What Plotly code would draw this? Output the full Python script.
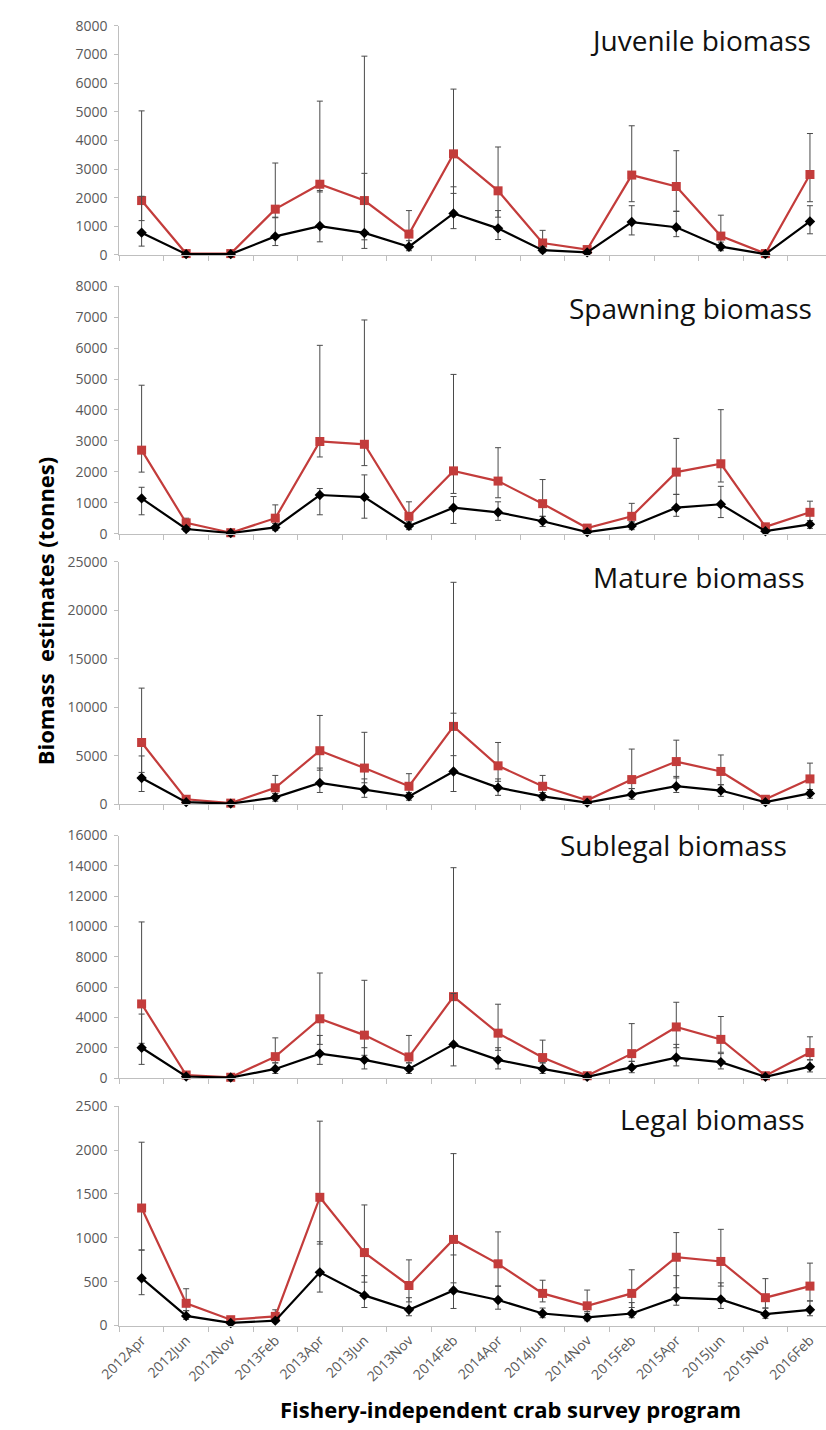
import plotly.graph_objects as go

W, H = 826, 1430

surveys = ["2012Apr", "2012Jun", "2012Nov", "2013Feb", "2013Apr", "2013Jun", "2013Nov",
           "2014Feb", "2014Apr", "2014Jun", "2014Nov", "2015Feb", "2015Apr", "2015Jun",
           "2015Nov", "2016Feb"]

# Juvenile biomass (tonnes): estimate with lower / upper bounds
juv_black = [780, 30, 30, 650, 1010, 770, 290, 1450, 930, 170, 90, 1150, 970, 290, 30, 1170]
juv_black_hi = [2050, 60, 60, 1320, 2250, 2850, 500, 2380, 1550, 300, 150, 1720, 1530, 450, 60, 1720]
juv_black_lo = [310, 10, 10, 330, 460, 230, 150, 920, 540, 80, 30, 700, 640, 150, 10, 740]
juv_red = [1900, 50, 50, 1600, 2470, 1900, 730, 3530, 2240, 420, 190, 2790, 2390, 660, 50, 2810]
juv_red_hi = [5030, 80, 80, 3210, 5370, 6940, 1550, 5790, 3770, 860, 300, 4510, 3640, 1390, 80, 4240]
juv_red_lo = [1200, 30, 30, 1300, 2200, 530, 350, 2150, 1320, 200, 100, 1860, 1520, 300, 30, 1860]

# Spawning biomass
spw_black = [1140, 150, 20, 200, 1250, 1180, 250, 840, 690, 400, 50, 250, 840, 950, 80, 300]
spw_black_hi = [1500, 230, 40, 330, 1460, 1900, 380, 1200, 1030, 560, 90, 380, 1270, 1530, 130, 420]
spw_black_lo = [610, 80, 5, 100, 610, 500, 130, 330, 430, 230, 20, 130, 560, 520, 30, 170]
spw_red = [2700, 350, 30, 500, 2980, 2890, 560, 2030, 1700, 970, 180, 560, 1990, 2260, 220, 690]
spw_red_hi = [4800, 500, 60, 930, 6090, 6910, 1030, 5150, 2780, 1750, 280, 980, 3080, 4010, 330, 1050]
spw_red_lo = [1990, 230, 10, 330, 2480, 2200, 380, 1300, 1160, 560, 100, 380, 1270, 1670, 130, 420]

# Mature biomass
mat_black = [2700, 200, 50, 700, 2190, 1500, 800, 3370, 1700, 800, 150, 1000, 1850, 1400, 200, 1100]
mat_black_hi = [4970, 350, 100, 1100, 3720, 2600, 1200, 9380, 2600, 1200, 250, 1600, 2860, 2000, 350, 1500]
mat_black_lo = [1300, 100, 20, 300, 1200, 700, 400, 1300, 900, 400, 60, 500, 1200, 800, 100, 600]
mat_red = [6360, 500, 100, 1680, 5510, 3720, 1840, 8020, 3950, 1840, 400, 2530, 4390, 3370, 500, 2600]
mat_red_hi = [11970, 700, 150, 2960, 9150, 7410, 3140, 22890, 6360, 2960, 600, 5680, 6600, 5070, 700, 4230]
mat_red_lo = [3270, 350, 60, 1100, 3500, 2200, 1200, 5000, 2350, 1200, 250, 1600, 2700, 2000, 350, 1500]

# Sublegal biomass
sub_black = [2000, 100, 30, 600, 1610, 1200, 600, 2220, 1200, 600, 80, 700, 1350, 1050, 80, 750]
sub_black_hi = [4220, 200, 60, 1000, 2810, 2000, 1000, 5580, 2000, 1000, 150, 1100, 2220, 1610, 150, 1200]
sub_black_lo = [900, 50, 10, 300, 900, 600, 300, 800, 600, 300, 30, 350, 800, 600, 30, 400]
sub_red = [4890, 200, 50, 1410, 3910, 2830, 1390, 5370, 2960, 1350, 150, 1610, 3370, 2550, 150, 1680]
sub_red_hi = [10300, 350, 100, 2650, 6930, 6450, 2810, 13880, 4870, 2500, 250, 3590, 5000, 4060, 250, 2720]
sub_red_lo = [2290, 100, 30, 1000, 2220, 1500, 1000, 2200, 1830, 1000, 80, 1100, 2000, 1700, 80, 1200]

# Legal biomass
leg_black = [540, 110, 30, 56, 607, 344, 180, 400, 292, 138, 93, 138, 318, 299, 130, 180]
leg_black_hi = [862, 170, 45, 80, 956, 569, 318, 805, 450, 200, 140, 262, 569, 487, 200, 281]
leg_black_lo = [352, 70, 15, 35, 382, 206, 112, 195, 187, 90, 55, 90, 232, 195, 83, 112]
leg_red = [1340, 254, 67, 105, 1462, 832, 457, 982, 704, 367, 225, 367, 779, 731, 318, 450]
leg_red_hi = [2090, 420, 90, 180, 2330, 1375, 749, 1960, 1068, 517, 405, 636, 1060, 1097, 535, 712]
leg_red_lo = [860, 170, 45, 80, 929, 495, 270, 487, 450, 270, 160, 206, 431, 450, 200, 281]

panel_titles = ["Juvenile biomass", "Spawning biomass", "Mature biomass",
                "Sublegal biomass", "Legal biomass"]
y_max = [8000, 8000, 25000, 16000, 2500]
y_step = [1000, 1000, 5000, 2000, 500]

panels = [
    (juv_black, juv_black_lo, juv_black_hi, juv_red, juv_red_lo, juv_red_hi),
    (spw_black, spw_black_lo, spw_black_hi, spw_red, spw_red_lo, spw_red_hi),
    (mat_black, mat_black_lo, mat_black_hi, mat_red, mat_red_lo, mat_red_hi),
    (sub_black, sub_black_lo, sub_black_hi, sub_red, sub_red_lo, sub_red_hi),
    (leg_black, leg_black_lo, leg_black_hi, leg_red, leg_red_lo, leg_red_hi),
]

# pixel layout of each plot area: (y of zero line, y of top value), title right edge / centre
plot_px = [(248.3, 16.0), (530.7, 280.0), (804.8, 559.3), (1082.4, 836.7), (1333.3, 1111.0)]
title_px = [(813, 30), (814, 302), (806, 575), (788, 846), (806, 1124)]

RED = "#c33c3b"
BLACK = "#000000"
ERR = "#4a4a4a"
AXIS = "#bfbfbf"
YTICKFONT = dict(family="Open Sans", size=14, color="#595959")
XTICKFONT = dict(family="Open Sans", size=14, color="#595959")

fig = go.Figure()
layout = dict(
    width=W, height=H, margin=dict(l=0, r=0, t=0, b=0),
    plot_bgcolor="white", paper_bgcolor="white", showlegend=False,
    annotations=[],
)

x_left = 100 / W


def err(vals, lo, hi):
    return dict(type="data", symmetric=False,
                array=[h - v for v, h in zip(vals, hi)],
                arrayminus=[v - l for v, l in zip(vals, lo)],
                color=ERR, thickness=1, width=3)


for k, (blk, blo, bhi, red, rlo, rhi) in enumerate(panels):
    sfx = "" if k == 0 else str(k + 1)
    xa, ya = "x" + sfx, "y" + sfx
    fig.add_trace(go.Scatter(
        x=surveys, y=red, xaxis=xa, yaxis=ya, mode="lines+markers",
        line=dict(color=RED, width=2.2),
        marker=dict(symbol="square", size=9, color=RED),
        error_y=err(red, rlo, rhi), cliponaxis=False))
    fig.add_trace(go.Scatter(
        x=surveys, y=blk, xaxis=xa, yaxis=ya, mode="lines+markers",
        line=dict(color=BLACK, width=2.2),
        marker=dict(symbol="diamond", size=8, color=BLACK),
        error_y=err(blk, blo, bhi), cliponaxis=False))

    y0, y1 = plot_px[k]
    last = k == len(panels) - 1
    layout["xaxis" + sfx] = dict(
        domain=[x_left, 1], anchor=ya, type="category",
        range=[-0.5, 15.36], tickson="boundaries", ticks="outside", ticklen=5,
        tickcolor=AXIS, showline=True, linecolor=AXIS, linewidth=1,
        showgrid=False, zeroline=False, showticklabels=last,
        tickangle=-45, tickfont=XTICKFONT,
    )
    layout["yaxis" + sfx] = dict(
        domain=[1 - y0 / H, 1 - y1 / H], anchor=xa,
        range=[0, y_max[k]], dtick=y_step[k], tick0=0, tickformat="d",
        ticks="outside", ticklen=4, tickcolor=AXIS,
        showline=True, linecolor=AXIS, linewidth=1,
        showgrid=False, zeroline=False, tickfont=YTICKFONT,
        ticklabelstandoff=4,
    )
    tx, ty = title_px[k]
    layout["annotations"].append(dict(
        text=panel_titles[k], xref="paper", yref="paper",
        x=tx / W, y=1 - ty / H, xanchor="right", yanchor="middle",
        showarrow=False, font=dict(family="Open Sans", size=28, color="#111111")))

layout["annotations"].append(dict(
    text="<b>Biomass  estimates (tonnes)</b>", xref="paper", yref="paper",
    x=24 / W, y=1 - 609 / H, xanchor="center", yanchor="middle", textangle=-90,
    showarrow=False, font=dict(family="Open Sans", size=22, color="#000000")))
layout["annotations"].append(dict(
    text="<b>Fishery-independent crab survey program</b>", xref="paper", yref="paper",
    x=502 / W, y=1 - 1418 / H, xanchor="center", yanchor="middle",
    showarrow=False, font=dict(family="Open Sans", size=22, color="#000000")))

fig.update_layout(**layout)
fig.write_html("out.html")
